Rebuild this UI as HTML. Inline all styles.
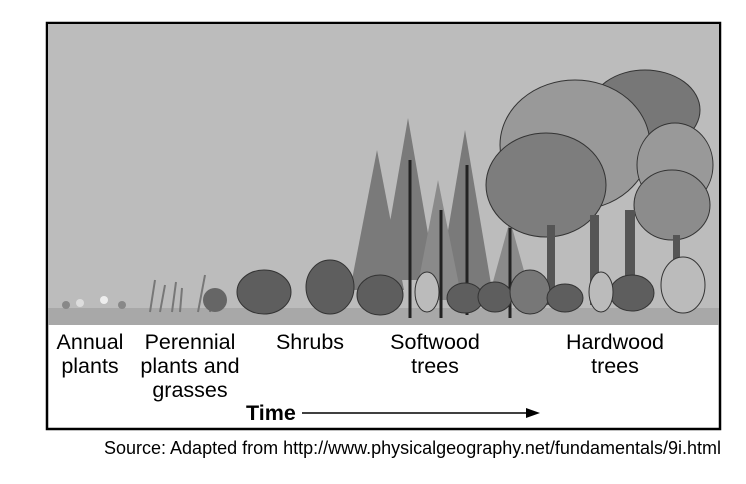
<!DOCTYPE html>
<html><head><style>
body{margin:0;background:#fff;width:746px;height:484px;overflow:hidden;font-family:"Liberation Sans",sans-serif}
.t{position:absolute;font-size:21.5px;color:#000;text-align:center;line-height:24px}
</style></head><body>
<svg width="746" height="484" style="position:absolute;left:0;top:0">
<rect x="47" y="23" width="673" height="406" fill="#fff" stroke="#000" stroke-width="2.5"/>
<rect x="48" y="24" width="671" height="300" fill="#bcbcbc"/>
<rect x="48" y="308" width="671" height="17" fill="#a8a8a8"/>
<g fill="#888"><circle cx="66" cy="305" r="4"/><circle cx="80" cy="303" r="4" fill="#ddd"/><circle cx="104" cy="300" r="4" fill="#eee"/><circle cx="122" cy="305" r="4"/></g>
<g stroke="#777" stroke-width="2"><path d="M150 312 L155 280 M160 312 L165 285 M172 312 L176 282 M180 312 L182 288 M198 312 L205 275 M210 312 L212 290"/></g>
<circle cx="215" cy="300" r="12" fill="#666"/>
<g fill="#7a7a7a">
<polygon points="377,150 350,290 404,290"/>
<polygon points="408,118 380,280 436,280"/>
<polygon points="465,130 438,290 492,290"/>
<polygon points="438,180 415,300 462,300" fill="#8a8a8a"/>
<polygon points="510,220 488,300 532,300" fill="#8a8a8a"/>
</g>
<g stroke="#222" stroke-width="3"><path d="M410 160 V318 M467 165 V315 M441 210 V318 M510 228 V318"/></g>
<g stroke="#333" stroke-width="1">
<ellipse cx="645" cy="110" rx="55" ry="40" fill="#777"/>
<ellipse cx="575" cy="145" rx="75" ry="65" fill="#999"/>
<ellipse cx="675" cy="165" rx="38" ry="42" fill="#999"/>
<ellipse cx="672" cy="205" rx="38" ry="35" fill="#8c8c8c"/>
<ellipse cx="546" cy="185" rx="60" ry="52" fill="#7d7d7d"/>
</g>
<g fill="#555"><rect x="547" y="225" width="8" height="80"/><rect x="590" y="215" width="9" height="90"/><rect x="625" y="210" width="10" height="95"/><rect x="673" y="235" width="7" height="60"/></g>
<g fill="#5e5e5e" stroke="#333">
<ellipse cx="264" cy="292" rx="27" ry="22"/>
<ellipse cx="330" cy="287" rx="24" ry="27"/>
<ellipse cx="380" cy="295" rx="23" ry="20"/>
<ellipse cx="465" cy="298" rx="18" ry="15"/>
<ellipse cx="495" cy="297" rx="17" ry="15"/>
<ellipse cx="530" cy="292" rx="20" ry="22" fill="#777"/>
<ellipse cx="565" cy="298" rx="18" ry="14"/>
<ellipse cx="632" cy="293" rx="22" ry="18"/>
<ellipse cx="427" cy="292" rx="12" ry="20" fill="#bbb"/>
<ellipse cx="601" cy="292" rx="12" ry="20" fill="#bbb"/>
<ellipse cx="683" cy="285" rx="22" ry="28" fill="#bbb"/>
</g>
<line x1="302" y1="413" x2="530" y2="413" stroke="#000" stroke-width="1.5"/>
<polygon points="540,413 526,408 526,418" fill="#000"/>
</svg>
<div class="t" style="left:40px;top:330px;width:100px">Annual<br>plants</div>
<div class="t" style="left:130px;top:330px;width:120px">Perennial<br>plants and<br>grasses</div>
<div class="t" style="left:260px;top:330px;width:100px">Shrubs</div>
<div class="t" style="left:375px;top:330px;width:120px">Softwood<br>trees</div>
<div class="t" style="left:555px;top:330px;width:120px">Hardwood<br>trees</div>
<div class="t" style="left:246px;top:401px;font-weight:bold">Time</div>
<div class="t" style="left:104px;top:436px;font-size:18px;text-align:left;white-space:nowrap">Source: Adapted from http://www.physicalgeography.net/fundamentals/9i.html</div>
</body></html>
